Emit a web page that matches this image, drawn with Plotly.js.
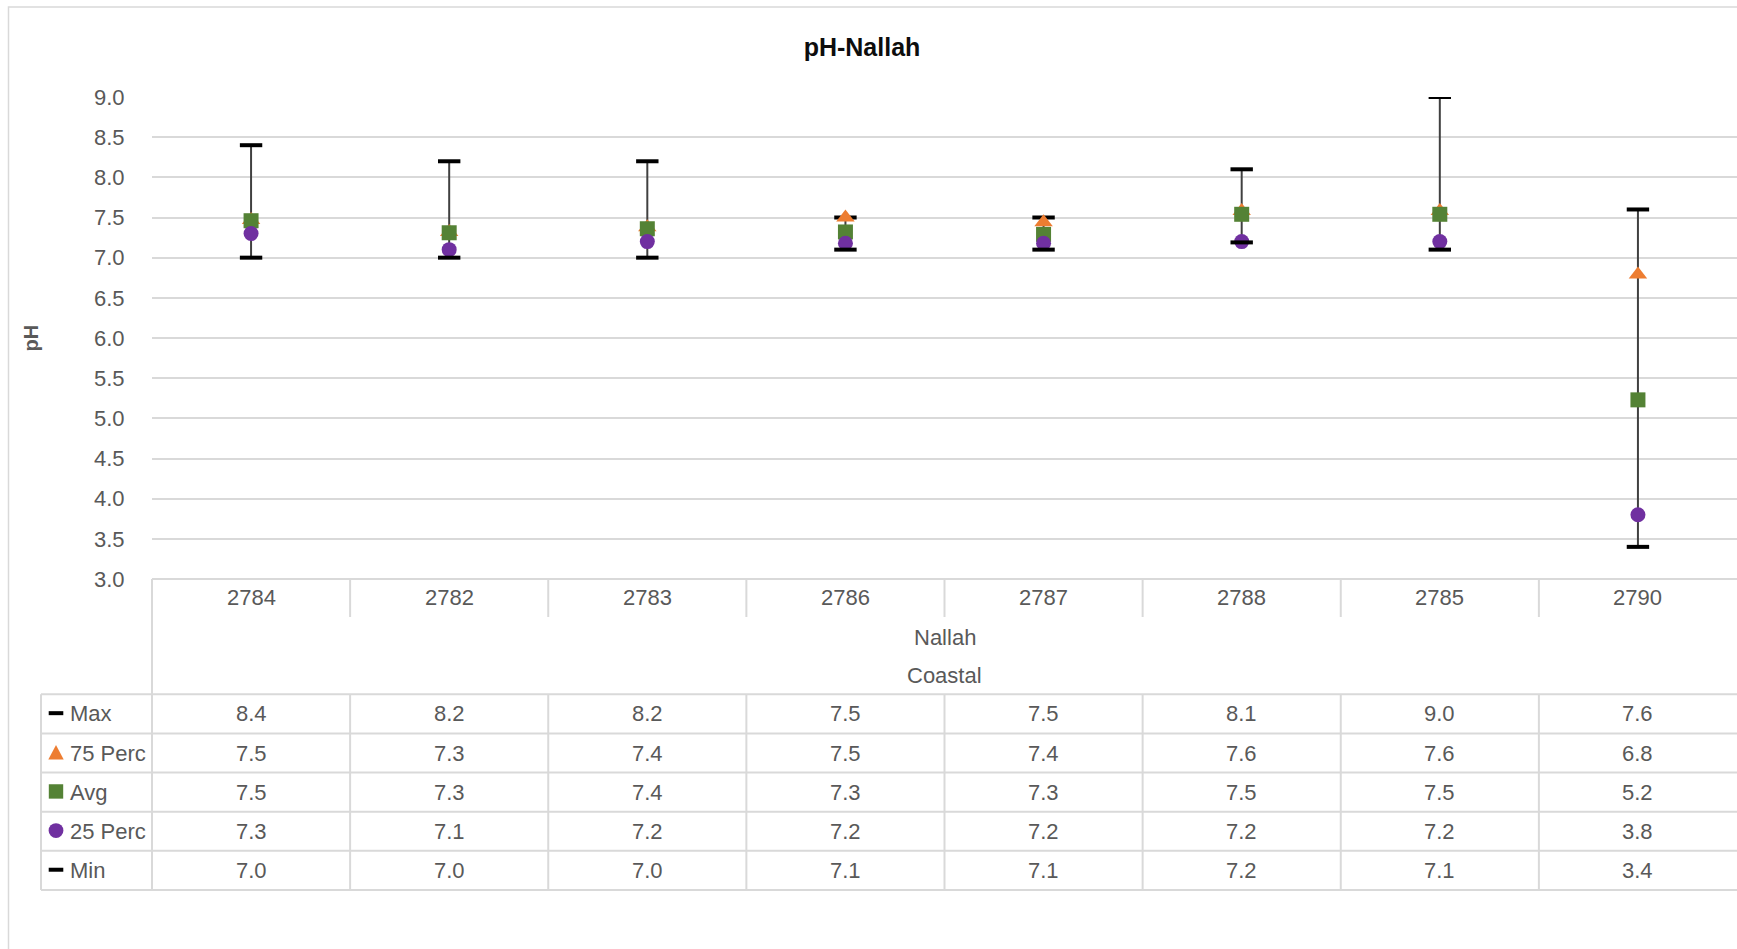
<!DOCTYPE html>
<html>
<head>
<meta charset="utf-8">
<script src="https://cdn.plot.ly/plotly-3.0.1.min.js"></script>
<style>
  html, body { margin: 0; padding: 0; background: #ffffff; }
  #chart { width: 1737px; height: 949px; }
</style>
</head>
<body>
<div id="chart"></div>
<script>
// ---- data ----
const categories = ['2784', '2782', '2783', '2786', '2787', '2788', '2785', '2790'];
const maxVals = [8.40, 8.20, 8.20, 7.50, 7.50, 8.10, 9.00, 7.60];
const p75Vals = [7.47, 7.32, 7.38, 7.50, 7.44, 7.58, 7.58, 6.79];
const avgVals = [7.46, 7.31, 7.36, 7.32, 7.29, 7.54, 7.54, 5.23];
const p25Vals = [7.30, 7.10, 7.20, 7.18, 7.18, 7.20, 7.20, 3.80];
const minVals = [7.00, 7.00, 7.00, 7.10, 7.10, 7.19, 7.10, 3.40];
const seriesNames = ['Max', '75 Perc', 'Avg', '25 Perc', 'Min'];
const groupLabel = 'Nallah';
const outerLabel = 'Coastal';
const yTicks = [3.0, 3.5, 4.0, 4.5, 5.0, 5.5, 6.0, 6.5, 7.0, 7.5, 8.0, 8.5, 9.0];

// ---- styling ----
const W = 1737, H = 949;
const M = { l: 152, r: 0, t: 97, b: 370 };
const PW = W - M.l - M.r, PH = H - M.t - M.b;
const GRID = '#d9d9d9';
const TXT = '#595959';
const FONT = "'Liberation Sans', Arial, sans-serif";
const FS = 22;
const colors = { max: '#000000', p75: '#ED7D31', avg: '#548235', p25: '#7030A0', min: '#000000' };

// pixel -> paper helpers (for the data table below the plot)
const px = x => (x - M.l) / PW;
const py = y => (H - M.b - y) / PH;

const n = categories.length;

// high-low line
const lx = [], ly = [];
categories.forEach((c, i) => { lx.push(c, c, null); ly.push(minVals[i], maxVals[i], null); });

const traces = [
  { type: 'scatter', mode: 'lines', x: lx, y: ly, line: { color: '#404040', width: 2 }, hoverinfo: 'skip', showlegend: false },
  { type: 'scatter', mode: 'markers', name: seriesNames[0], x: categories, y: maxVals,
    marker: { symbol: 'line-ew', size: 16, line: { color: colors.max, width: 4 } } },
  { type: 'scatter', mode: 'markers', name: seriesNames[1], x: categories, y: p75Vals,
    marker: { symbol: 'triangle-up', size: 16, color: colors.p75, line: { width: 0 } } },
  { type: 'scatter', mode: 'markers', name: seriesNames[2], x: categories, y: avgVals,
    marker: { symbol: 'square', size: 15, color: colors.avg, line: { width: 0 } } },
  { type: 'scatter', mode: 'markers', name: seriesNames[3], x: categories, y: p25Vals,
    marker: { symbol: 'circle', size: 15, color: colors.p25, line: { width: 0 } } },
  { type: 'scatter', mode: 'markers', name: seriesNames[4], x: categories, y: minVals,
    marker: { symbol: 'line-ew', size: 16, line: { color: colors.min, width: 4 } } }
];

// ---- table geometry ----
const yPlotBottom = H - M.b;          // 579
const yCatRowBottom = 617;
const yNallah = 637;
const yCoastal = 675;
const tableTop = 694.3;
const rowH = 39.14;
const tableLeft = 41;
const legendSymX = 56;

const shapes = [];
const annotations = [];
const line = { color: GRID, width: 2 };

// outer chart border
shapes.push({ type: 'rect', xref: 'paper', yref: 'paper', x0: px(8.5), x1: px(W + 20), y0: py(7), y1: py(H + 20),
  line: { color: GRID, width: 1.5 }, fillcolor: 'rgba(0,0,0,0)', layer: 'below' });

// horizontal lines of the table
shapes.push({ type: 'line', xref: 'paper', yref: 'paper', x0: 0, x1: 1, y0: py(yPlotBottom), y1: py(yPlotBottom), line });
for (let r = 0; r <= seriesNames.length; r++) {
  const y = tableTop + r * rowH;
  shapes.push({ type: 'line', xref: 'paper', yref: 'paper', x0: px(tableLeft), x1: 1, y0: py(y), y1: py(y), line });
}
// vertical lines
shapes.push({ type: 'line', xref: 'paper', yref: 'paper', x0: px(tableLeft), x1: px(tableLeft), y0: py(tableTop), y1: py(tableTop + 5 * rowH), line });
shapes.push({ type: 'line', xref: 'paper', yref: 'paper', x0: 0, x1: 0, y0: py(yPlotBottom), y1: py(tableTop + 5 * rowH), line });
for (let i = 1; i < n; i++) {
  const xp = i / n;
  shapes.push({ type: 'line', xref: 'paper', yref: 'paper', x0: xp, x1: xp, y0: py(yPlotBottom), y1: py(yCatRowBottom), line });
  shapes.push({ type: 'line', xref: 'paper', yref: 'paper', x0: xp, x1: xp, y0: py(tableTop), y1: py(tableTop + 5 * rowH), line });
}

// category labels
const tfont = { family: FONT, size: FS, color: TXT };
categories.forEach((c, i) => {
  annotations.push({ xref: 'x', yref: 'paper', x: i, y: py(597.5), text: c, showarrow: false, xanchor: 'center', yanchor: 'middle', font: tfont });
});
annotations.push({ xref: 'paper', yref: 'paper', x: 0.5, y: py(yNallah), text: groupLabel, showarrow: false, xanchor: 'center', yanchor: 'middle', font: tfont });
annotations.push({ xref: 'paper', yref: 'paper', x: 0.5, y: py(yCoastal), text: outerLabel, showarrow: false, xanchor: 'center', yanchor: 'middle', font: tfont });

// data rows
const rows = [maxVals, p75Vals, avgVals, p25Vals, minVals];
rows.forEach((vals, r) => {
  const yc = tableTop + (r + 0.5) * rowH;
  annotations.push({ xref: 'paper', yref: 'paper', x: px(68), y: py(yc), text: seriesNames[r], showarrow: false, xanchor: 'left', yanchor: 'middle', font: tfont });
  vals.forEach((v, i) => {
    annotations.push({ xref: 'x', yref: 'paper', x: i, y: py(yc), text: v.toFixed(1), showarrow: false, xanchor: 'center', yanchor: 'middle', font: tfont });
  });
});

// legend keys in the table
function rowC(r) { return tableTop + (r + 0.5) * rowH - 0.7; }
function dashKey(r, col) {
  const yc = rowC(r);
  shapes.push({ type: 'rect', xref: 'paper', yref: 'paper', x0: px(legendSymX - 7.3), x1: px(legendSymX + 7.3), y0: py(yc - 2), y1: py(yc + 2), line: { width: 0 }, fillcolor: col });
}
dashKey(0, colors.max);
(function () {
  const yc = rowC(1);
  const path = 'M ' + px(legendSymX - 7.7) + ' ' + py(yc + 7.2) + ' L ' + px(legendSymX + 7.7) + ' ' + py(yc + 7.2) + ' L ' + px(legendSymX) + ' ' + py(yc - 7.2) + ' Z';
  shapes.push({ type: 'path', xref: 'paper', yref: 'paper', path, line: { width: 0 }, fillcolor: colors.p75 });
})();
(function () {
  const yc = rowC(2);
  shapes.push({ type: 'rect', xref: 'paper', yref: 'paper', x0: px(legendSymX - 7.2), x1: px(legendSymX + 7.2), y0: py(yc - 7.2), y1: py(yc + 7.2), line: { width: 0 }, fillcolor: colors.avg });
})();
(function () {
  const yc = rowC(3);
  shapes.push({ type: 'circle', xref: 'paper', yref: 'paper', x0: px(legendSymX - 7.4), x1: px(legendSymX + 7.4), y0: py(yc - 7.4), y1: py(yc + 7.4), line: { width: 0 }, fillcolor: colors.p25 });
})();
dashKey(4, colors.min);

// y axis title
annotations.push({ xref: 'paper', yref: 'paper', x: px(30.5), y: 0.5, text: 'pH', textangle: -90, showarrow: false,
  xanchor: 'center', yanchor: 'middle', font: { family: FONT, size: 20, color: TXT, weight: 'bold' } });

const layout = {
  width: W, height: H,
  margin: M,
  paper_bgcolor: '#ffffff', plot_bgcolor: '#ffffff',
  showlegend: false,
  title: { text: 'pH-Nallah', x: 862 / W, xref: 'container', xanchor: 'center', y: 1 - 47 / H, yref: 'container', yanchor: 'middle',
    font: { family: FONT, size: 25, color: '#0d0d0d', weight: 'bold' } },
  xaxis: { type: 'category', categoryarray: categories, range: [-0.5, n - 0.5], showticklabels: false, showgrid: false, zeroline: false, showline: false, ticks: '', fixedrange: true },
  yaxis: { range: [3, 9], tickvals: yTicks, ticktext: yTicks.map(v => v.toFixed(1)), showgrid: true, gridcolor: GRID, gridwidth: 2,
    zeroline: false, showline: false, ticks: 'outside', ticklen: 22, tickcolor: 'rgba(0,0,0,0)',
    tickfont: { family: FONT, size: FS, color: TXT }, fixedrange: true },
  shapes, annotations
};

Plotly.newPlot('chart', traces, layout, { displayModeBar: false, staticPlot: true });
</script>
</body>
</html>
